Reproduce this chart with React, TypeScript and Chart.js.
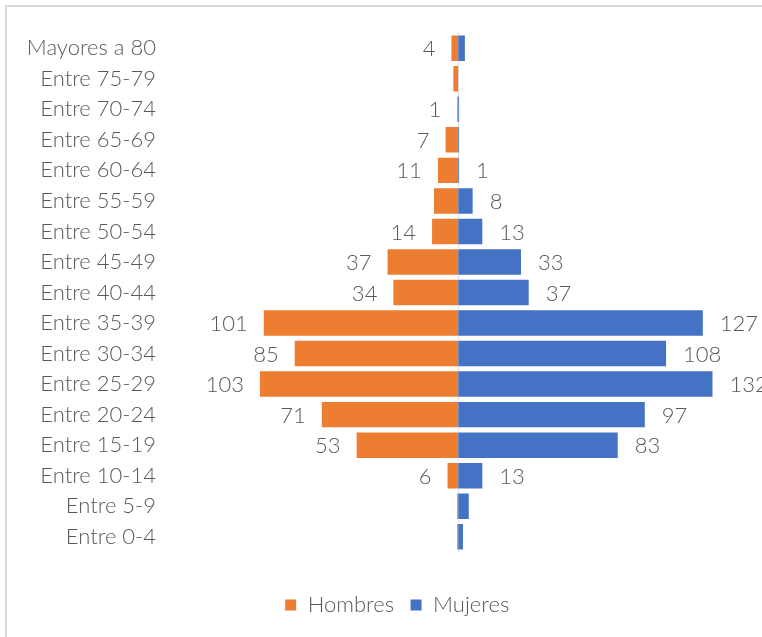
import React, { useEffect, useRef } from "react";
import { Chart, registerables } from "chart.js";

Chart.register(...registerables);

const categories = [
  "Mayores a 80",
  "Entre 75-79",
  "Entre 70-74",
  "Entre 65-69",
  "Entre 60-64",
  "Entre 55-59",
  "Entre 50-54",
  "Entre 45-49",
  "Entre 40-44",
  "Entre 35-39",
  "Entre 30-34",
  "Entre 25-29",
  "Entre 20-24",
  "Entre 15-19",
  "Entre 10-14",
  "Entre 5-9",
  "Entre 0-4",
];

const hombres = [4, 3, 1, 7, 11, 13, 14, 37, 34, 101, 85, 103, 71, 53, 6, 1, 1];
const mujeres = [4, 0, 1, 1, 1, 8, 13, 33, 37, 127, 108, 132, 97, 83, 13, 6, 3];

const hombresEtiqueta = [true, false, true, true, true, false, true, true, true, true, true, true, true, true, true, false, false];
const mujeresEtiqueta = [false, false, false, false, true, true, true, true, true, true, true, true, true, true, true, false, false];

const FONT = "Lato, 'Noto Sans', sans-serif";
const GREY = "#595959";

const labelPlugin = {
  id: "pyramidLabels",
  afterDatasetsDraw(chart: any) {
    const ctx = chart.ctx;
    ctx.save();
    ctx.font = `300 22px ${FONT}`;
    ctx.fillStyle = GREY;
    ctx.textBaseline = "middle";
    const shows = [hombresEtiqueta, mujeresEtiqueta];
    const vals = [hombres, mujeres];
    chart.data.datasets.forEach((_: any, di: number) => {
      const meta = chart.getDatasetMeta(di);
      meta.data.forEach((el: any, i: number) => {
        if (!shows[di][i]) return;
        const txt = String(vals[di][i]);
        if (di === 0) {
          ctx.textAlign = "right";
          ctx.fillText(txt, el.x - 15, el.y + 1);
        } else {
          ctx.textAlign = "left";
          ctx.fillText(txt, el.x + 16, el.y + 1);
        }
      });
    });
    ctx.restore();
  },
};

const axisLinePlugin = {
  id: "centerLine",
  beforeDatasetsDraw(chart: any) {
    const { ctx, chartArea, scales } = chart;
    const x = Math.round(scales.x.getPixelForValue(0)) + 0.5;
    ctx.save();
    ctx.strokeStyle = "#d9d9d9";
    ctx.lineWidth = 1;
    ctx.beginPath();
    ctx.moveTo(x, chartArea.top);
    ctx.lineTo(x, chartArea.bottom);
    ctx.stroke();
    ctx.restore();
  },
};

export default function App() {
  const ref = useRef<HTMLCanvasElement | null>(null);
  useEffect(() => {
    if (!ref.current) return;
    const chart = new Chart(ref.current, {
      type: "bar",
      data: {
        labels: categories,
        datasets: [
          {
            label: "Hombres",
            data: hombres.map((v) => -v),
            backgroundColor: "#ED7D31",
            borderColor: "#ffffff",
            borderWidth: 1,
            categoryPercentage: 1,
            barPercentage: 0.9,
          },
          {
            label: "Mujeres",
            data: mujeres,
            backgroundColor: "#4472C4",
            borderColor: "#ffffff",
            borderWidth: 1,
            categoryPercentage: 1,
            barPercentage: 0.9,
          },
        ],
      },
      options: {
        indexAxis: "y",
        animation: false,
        responsive: true,
        maintainAspectRatio: false,
        layout: { padding: { top: 26, left: 0, right: 0, bottom: 31 } },
        scales: {
          x: {
            stacked: true,
            min: -150,
            max: 170,
            display: true,
            grid: { display: false, drawTicks: false },
            border: { display: false },
            ticks: { display: false },
            afterFit: (scale: any) => {
              scale.height = 26;
            },
          },
          y: {
            stacked: true,
            grid: { display: false, drawTicks: false },
            border: { display: false },
            ticks: {
              color: GREY,
              padding: 12,
              font: { family: FONT, size: 22, weight: "300" },
            },
            afterFit: (scale: any) => {
              scale.width = 161;
            },
          },
        },
        plugins: {
          legend: {
            position: "bottom",
            labels: {
              boxWidth: 12,
              boxHeight: 12,
              padding: 16,
              color: GREY,
              font: { family: FONT, size: 22, weight: "300" },
            },
          },
          tooltip: { enabled: false },
        },
      },
      plugins: [labelPlugin, axisLinePlugin],
    });
    return () => chart.destroy();
  }, []);

  return (
    <div
      style={{
        position: "fixed",
        left: 0,
        top: 0,
        width: 762,
        height: 637,
        overflow: "hidden",
        background: "#ffffff",
      }}
    >
      <div
        style={{
          position: "absolute",
          left: 5,
          top: 5,
          width: 800,
          height: 680,
          border: "2px solid #d9d9d9",
          background: "#ffffff",
        }}
      >
        <div style={{ position: "relative", width: 780, height: 650 }}>
          <canvas ref={ref} />
        </div>
      </div>
    </div>
  );
}
